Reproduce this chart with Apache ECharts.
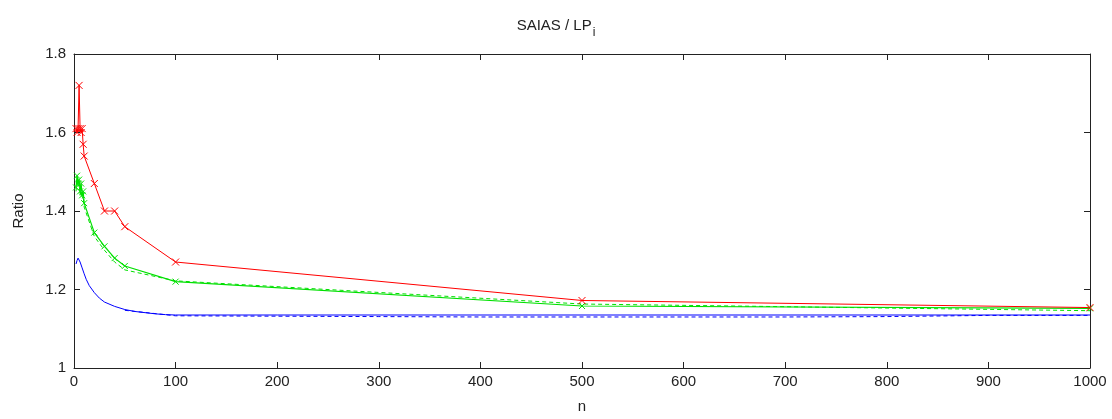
<!DOCTYPE html>
<html>
<head>
    <meta charset="UTF-8">
    <title>SAIAS / LPi</title>
    <script src="https://cdn.jsdelivr.net/npm/echarts@6/dist/echarts.min.js"></script>
    <style>
        html, body { margin: 0; padding: 0; background: #fff; }
        #ratio_chart { width: 1112px; height: 419px; }
    </style>
</head>
<body>
<div id="ratio_chart"></div>

<script>
    // values
    var red_n = [2, 3, 4, 5, 6, 7, 8, 9, 10, 20, 30, 40, 50, 100, 500, 1000];
    var red_ratio = [1.61, 1.60, 1.61, 1.72, 1.61, 1.60, 1.61, 1.57, 1.54, 1.47, 1.40, 1.40, 1.36, 1.27, 1.172, 1.154];

    var green_n = [2, 3, 4, 5, 6, 7, 8, 9, 10, 20, 30, 40, 50, 100, 500, 1000];
    var green_ratio = [1.46, 1.49, 1.47, 1.48, 1.45, 1.47, 1.44, 1.45, 1.42, 1.345, 1.31, 1.28, 1.26, 1.22, 1.158, 1.152];
    var green_dash_ratio = [1.45, 1.48, 1.46, 1.47, 1.44, 1.46, 1.43, 1.44, 1.41, 1.335, 1.30, 1.27, 1.25, 1.222, 1.163, 1.146];

    var blue_n = [2, 3, 4, 5, 6, 8, 10, 12, 15, 20, 25, 30, 40, 50, 60, 70, 80, 90, 100, 200, 500, 1000];
    var blue_ratio = [1.265, 1.274, 1.28, 1.278, 1.27, 1.255, 1.24, 1.226, 1.21, 1.192, 1.178, 1.168, 1.157, 1.149, 1.144, 1.141, 1.138, 1.136, 1.135, 1.135, 1.135, 1.135];

    var blue_dash_n = [50, 100, 200, 300, 400, 500, 600, 700, 800, 900, 1000];
    var blue_dash_ratio = [1.147, 1.133, 1.132, 1.131, 1.130, 1.130, 1.130, 1.130, 1.131, 1.134, 1.134];

    var x_ticks = [0, 1000, 100];
    var y_ticks = [1, 1.8, 0.2];

    function pairs(xs, ys) {
        var out = [];
        for (var i = 0; i < xs.length; i++) out.push([xs[i], ys[i]]);
        return out;
    }

    var cross = 'path://M0,0L10,10M10,0L0,10';
    var font = 'Liberation Sans, Arial, sans-serif';
    var ink = '#222';

    var ratio_chart = echarts.init(document.getElementById('ratio_chart'));
    var option = {
        animation: false,
        backgroundColor: '#fff',
        title: {
            text: '{a|SAIAS / LP}{s|i}',
            left: 'center',
            top: 8,
            textStyle: {
                rich: {
                    a: {fontFamily: font, fontSize: 15, color: ink, fontWeight: 'normal'},
                    s: {fontFamily: font, fontSize: 12, color: ink, fontWeight: 'normal', padding: [14, 0, 0, 1]}
                }
            }
        },
        grid: {left: 74, right: 22, top: 54, bottom: 49},
        xAxis: [{
            type: 'value',
            min: x_ticks[0], max: x_ticks[1], interval: x_ticks[2],
            name: 'n', nameLocation: 'middle', nameGap: 31,
            nameTextStyle: {fontFamily: font, fontSize: 15, color: ink},
            axisLine: {show: true, onZero: false, lineStyle: {color: ink}},
            axisTick: {inside: true, length: 6, lineStyle: {color: ink}},
            axisLabel: {fontFamily: font, fontSize: 15, color: ink, margin: 6,
                formatter: function (v) { return String(v); }},
            splitLine: {show: false}
        }, {
            type: 'value', position: 'top',
            min: x_ticks[0], max: x_ticks[1], interval: x_ticks[2],
            axisLine: {show: true, onZero: false, lineStyle: {color: ink}},
            axisTick: {inside: true, length: 6, lineStyle: {color: ink}},
            axisLabel: {show: false},
            splitLine: {show: false}
        }],
        yAxis: [{
            type: 'value',
            min: y_ticks[0], max: y_ticks[1], interval: y_ticks[2],
            name: 'Ratio', nameLocation: 'middle', nameGap: 48,
            nameTextStyle: {fontFamily: font, fontSize: 15, color: ink},
            axisLine: {show: true, onZero: false, lineStyle: {color: ink}},
            axisTick: {inside: true, length: 6, lineStyle: {color: ink}},
            axisLabel: {fontFamily: font, fontSize: 15, color: ink, margin: 8},
            splitLine: {show: false}
        }, {
            type: 'value', position: 'right',
            min: y_ticks[0], max: y_ticks[1], interval: y_ticks[2],
            axisLine: {show: true, onZero: false, lineStyle: {color: ink}},
            axisTick: {inside: true, length: 6, lineStyle: {color: ink}},
            axisLabel: {show: false},
            splitLine: {show: false}
        }],
        series: [
            {
                name: 'blue dashed', type: 'line', showSymbol: false,
                data: pairs(blue_dash_n, blue_dash_ratio),
                lineStyle: {color: '#0000ff', width: 1, type: [4, 3]}
            },
            {
                name: 'blue', type: 'line', showSymbol: false,
                data: pairs(blue_n, blue_ratio),
                lineStyle: {color: '#0000ff', width: 1}
            },
            {
                name: 'green dashed', type: 'line', showSymbol: false,
                data: pairs(green_n, green_dash_ratio),
                lineStyle: {color: '#00e000', width: 1, type: [4, 3]}
            },
            {
                name: 'green', type: 'line',
                data: pairs(green_n, green_ratio),
                symbol: cross, symbolSize: 6,
                itemStyle: {color: '#00e000', borderColor: '#00e000', borderWidth: 1},
                lineStyle: {color: '#00e000', width: 1.2}
            },
            {
                name: 'red', type: 'line',
                data: pairs(red_n, red_ratio),
                symbol: cross, symbolSize: 7,
                itemStyle: {color: '#ff0000', borderColor: '#ff0000', borderWidth: 1},
                lineStyle: {color: '#ff0000', width: 1}
            }
        ]
    };

    ratio_chart.setOption(option);
</script>
</body>
</html>
